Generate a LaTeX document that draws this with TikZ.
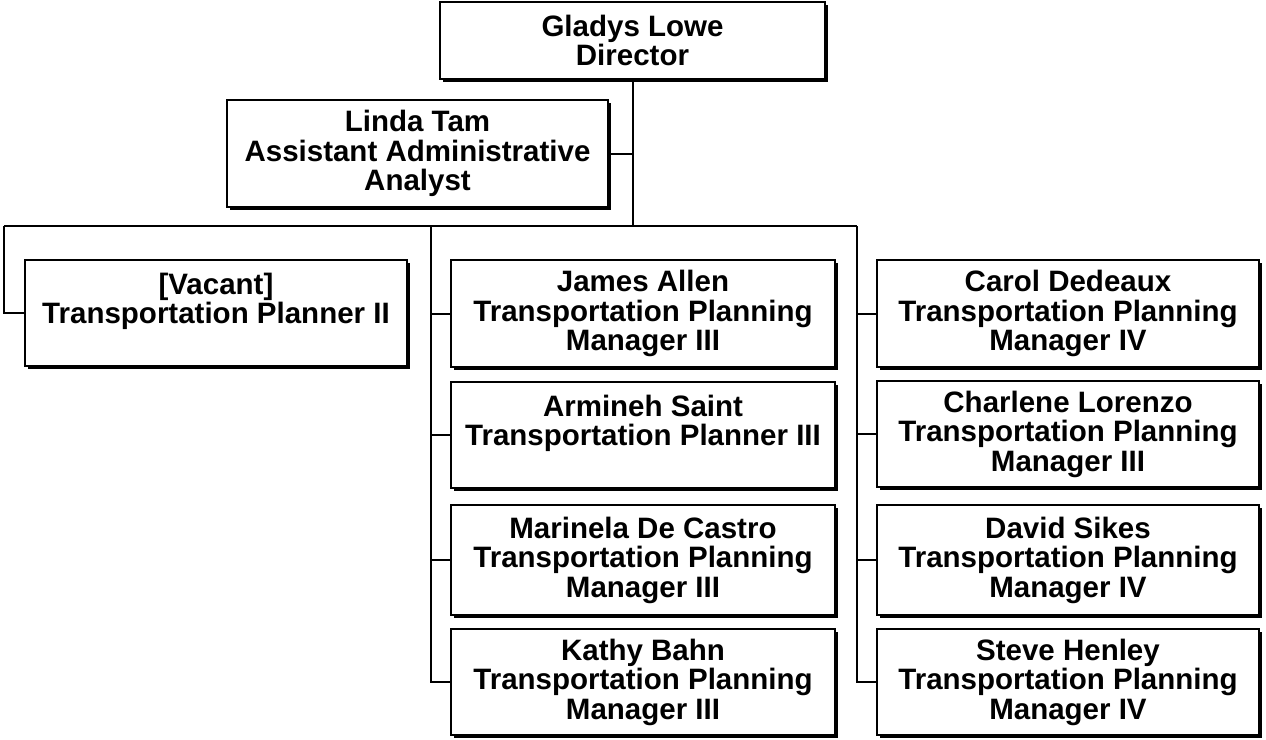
\documentclass[tikz,border=0pt]{standalone}
\usepackage{fontspec}
\setmainfont{Liberation Sans}
\usetikzlibrary{shadows}
\begin{document}
\begin{tikzpicture}[x=1pt,y=-1pt,
  card/.style={draw, fill=white, line width=2pt, inner sep=0pt,
    minimum width=382pt, minimum height=107pt, align=center,
    font=\fontsize{29.5}{29.5}\selectfont\bfseries,
    drop shadow={shadow xshift=3pt, shadow yshift=-3pt, fill=black, opacity=1}},
  link/.style={line width=2pt}]
\useasboundingbox (0,0) rectangle (1266,739);
% boxes
\node[card, minimum width=385pt, minimum height=77pt] (dir) at (632.5,40.5) {Gladys Lowe\\Director};
\node[card, minimum width=381pt] (linda) at (417.5,153.5) {Linda Tam\\Assistant Administrative\\Analyst};
\node[card, minimum height=106pt] (vac) at (216,313) {[Vacant]\\Transportation Planner II\\\mbox{}};
\node[card, minimum width=384pt] (james) at (643,313.5) {James Allen\\Transportation Planning\\Manager III};
\node[card, minimum width=384pt, minimum height=106pt] (armineh) at (643,435) {Armineh Saint\\Transportation Planner III\\\mbox{}};
\node[card, minimum width=384pt, minimum height=110pt] (marinela) at (643,560) {Marinela De Castro\\Transportation Planning\\Manager III};
\node[card, minimum width=384pt, minimum height=106pt] (kathy) at (643,682) {Kathy Bahn\\Transportation Planning\\Manager III};
\node[card] (carol) at (1068,313.5) {Carol Dedeaux\\Transportation Planning\\Manager IV};
\node[card, minimum height=106pt] (charlene) at (1068,434) {Charlene Lorenzo\\Transportation Planning\\Manager III};
\node[card, minimum height=110pt] (david) at (1068,560) {David Sikes\\Transportation Planning\\Manager IV};
\node[card, minimum height=106pt] (steve) at (1068,682) {Steve Henley\\Transportation Planning\\Manager IV};
% bus coordinates
\coordinate (busL) at (4,226);
\coordinate (busC2) at (431,226);
\coordinate (busC3) at (857,226);
% connectors
\draw[link] (dir.south) -- (dir.south |- busL);
\draw[link] (linda.east) -- (linda.east -| dir.south);
\draw[link] (busL) -- (busC3);
\draw[link] (busL) |- (vac.west);
\draw[link] (busC2) |- (kathy.west);
\draw[link] (busC3) |- (steve.west);
\draw[link] (james.west) -- (james.west -| busC2);
\draw[link] (armineh.west) -- (armineh.west -| busC2);
\draw[link] (marinela.west) -- (marinela.west -| busC2);
\draw[link] (carol.west) -- (carol.west -| busC3);
\draw[link] (charlene.west) -- (charlene.west -| busC3);
\draw[link] (david.west) -- (david.west -| busC3);
\end{tikzpicture}
\end{document}
